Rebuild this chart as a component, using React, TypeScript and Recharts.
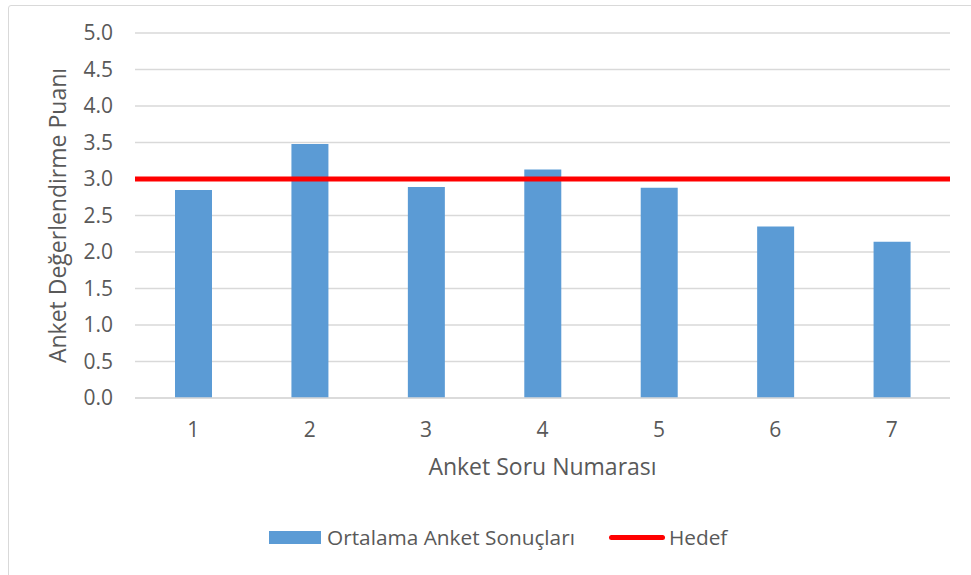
import {
  ComposedChart,
  Bar,
  XAxis,
  YAxis,
  CartesianGrid,
  ReferenceLine,
  Legend,
} from "recharts";

const CATEGORIES = ["1", "2", "3", "4", "5", "6", "7"];
const ORTALAMA = [2.85, 3.48, 2.89, 3.13, 2.88, 2.35, 2.14];
const HEDEF = 3.0;
const Y_TICKS = [0, 0.5, 1, 1.5, 2, 2.5, 3, 3.5, 4, 4.5, 5];

const BAR_NAME = "Ortalama Anket Sonuçları";
const LINE_NAME = "Hedef";
const X_TITLE = "Anket Soru Numarası";
const Y_TITLE = "Anket Değerlendirme Puanı";

const BLUE = "#5b9bd5";
const RED = "#ff0000";
const TEXT = "#595959";
const GRID = "#d9d9d9";
const FONT = "'Open Sans', sans-serif";

const chartData = CATEGORIES.map((c, i) => ({ soru: c, ortalama: ORTALAMA[i] }));

function YTitle({ viewBox }: any) {
  const cx = 57;
  const cy = viewBox.y + viewBox.height / 2;
  return (
    <text
      x={cx}
      y={cy}
      transform={`rotate(-90, ${cx}, ${cy})`}
      textAnchor="middle"
      dominantBaseline="central"
      fill={TEXT}
      fontSize={23}
      fontFamily={FONT}
    >
      {Y_TITLE}
    </text>
  );
}

function renderLegend() {
  return (
    <div
      style={{
        display: "flex",
        alignItems: "center",
        height: 30,
        marginLeft: 269,
        fontFamily: FONT,
        fontSize: 20.8,
        color: TEXT,
        lineHeight: "normal",
      }}
    >
      <span style={{ width: 52, height: 13, background: BLUE, marginRight: 6 }} />
      <span>{BAR_NAME}</span>
      <span
        style={{
          width: 56,
          height: 5,
          background: RED,
          borderRadius: 3,
          marginLeft: 34,
          marginRight: 4,
        }}
      />
      <span>{LINE_NAME}</span>
    </div>
  );
}

export default function App() {
  return (
    <div
      style={{
        position: "absolute",
        left: 0,
        top: 0,
        width: 971,
        height: 575,
        overflow: "hidden",
        background: "#fff",
      }}
    >
      <div
        style={{
          position: "absolute",
          left: 8,
          top: 5,
          width: 980,
          height: 600,
          border: `1px solid ${GRID}`,
          borderRadius: 3,
        }}
      />
      <div style={{ position: "absolute", left: 0, top: 0 }}>
        <ComposedChart
          width={971}
          height={575}
          data={chartData}
          margin={{ top: 33, right: 21, left: 0, bottom: 23 }}
        >
          <CartesianGrid vertical={false} stroke={GRID} strokeWidth={1.3} />
          <XAxis
            dataKey="soru"
            height={124}
            tickLine={false}
            axisLine={{ stroke: GRID, strokeWidth: 1.3 }}
            tickMargin={18}
            tick={{ fontSize: 21, fill: TEXT, fontFamily: FONT }}
            label={{
              value: X_TITLE,
              position: "insideBottom",
              offset: 47,
              fill: TEXT,
              fontSize: 23,
              fontFamily: FONT,
            }}
          />
          <YAxis
            width={135}
            domain={[0, 5]}
            ticks={Y_TICKS}
            tickFormatter={(v: number) => v.toFixed(1)}
            tickLine={false}
            axisLine={false}
            tickMargin={16}
            tick={{ fontSize: 21, fill: TEXT, fontFamily: FONT }}
            label={<YTitle />}
          />
          <Bar
            dataKey="ortalama"
            name={BAR_NAME}
            fill={BLUE}
            barSize={37}
            isAnimationActive={false}
          />
          <ReferenceLine y={HEDEF} stroke={RED} strokeWidth={5} />
          <Legend verticalAlign="bottom" content={renderLegend} />
        </ComposedChart>
      </div>
    </div>
  );
}
